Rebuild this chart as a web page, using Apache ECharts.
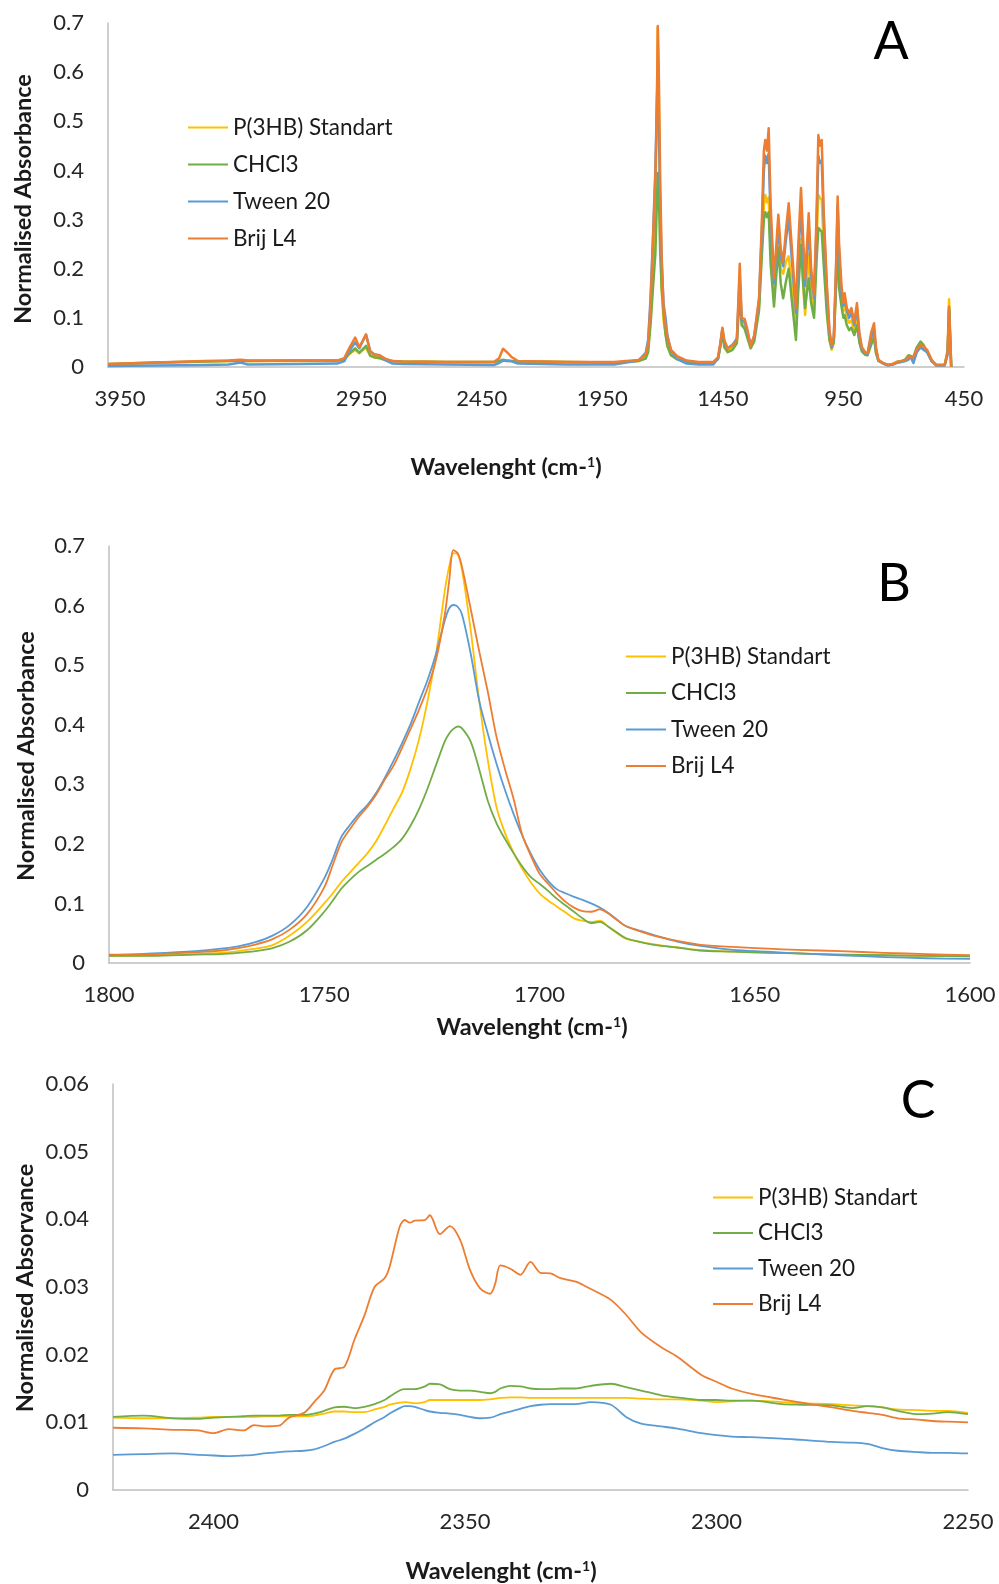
<!DOCTYPE html>
<html><head><meta charset="utf-8">
<script src="https://cdn.jsdelivr.net/npm/echarts@6/dist/echarts.min.js"></script>
<style>html,body{margin:0;padding:0;background:#fff}#c{width:999px;height:1584px}</style>
</head><body><div id="c"></div>
<script>
// ---------- Panel A : full spectrum ----------
const waveA = [4000,3800,3600,3500,3450,3420,3200,3050,3020,3000,
2975,2958,2930,2912,2895,2875,2850,2820,2780,2600,
2400,2378,2362,2345,2328,2300,2100,1900,1800,1770,
1760,1750,1740,1730,1724,1720,1716,1710,1704,1696,
1688,1680,1665,1640,1600,1550,1490,1470,1460,1452,
1444,1430,1410,1392,1380,1372,1360,1350,1335,1320,
1300,1288,1280,1274,1267,1260,1252,1238,1228,1220,
1210,1200,1188,1177,1165,1147,1138,1126,1117,1109,
1102,1094,1084,1072,1062,1054,1048,1040,1032,1019,
1008,999,990,981,974,968,958,950,945,936,
926,917,905,894,884,874,860,850,835,823,
815,805,786,765,745,729,710,694,680,672,
660,646,630,618,603,584,565,530,518,512,
507,503];
const p3hbA = [.005,.008,.011,.012,.013,.012,.012,.012,.015,.026,
.035,.028,.040,.022,.019,.020,.014,.012,.011,.010,
.010,.012,.013,.012,.012,.011,.010,.009,.012,.020,
.036,.100,.180,.330,.520,.690,.570,.268,.160,.095,
.069,.042,.024,.016,.011,.009,.009,.017,.045,.075,
.045,.033,.040,.052,.165,.090,.085,.070,.042,.058,
.125,.250,.330,.350,.335,.345,.240,.150,.210,.260,
.200,.190,.215,.225,.170,.080,.170,.260,.170,.106,
.170,.230,.150,.110,.250,.350,.345,.340,.250,.130,
.055,.035,.050,.170,.300,.200,.140,.115,.125,.100,
.090,.095,.075,.100,.055,.035,.025,.024,.050,.065,
.030,.013,.008,.004,.006,.010,.012,.014,.020,.022,
.018,.034,.042,.040,.032,.013,.004,.004,.035,.138,
.060,0];
const chcl3A = [.006,.009,.011,.012,.013,.012,.013,.013,.016,.027,
.038,.029,.043,.023,.020,.018,.014,.012,.011,.010,
.010,.012,.015,.013,.012,.011,.010,.009,.012,.017,
.030,.086,.160,.230,.330,.395,.365,.235,.162,.110,
.067,.043,.024,.016,.011,.009,.009,.016,.042,.072,
.040,.030,.035,.048,.150,.085,.078,.062,.038,.052,
.115,.230,.300,.315,.305,.315,.210,.123,.190,.242,
.170,.140,.175,.200,.140,.055,.150,.248,.170,.120,
.150,.180,.130,.100,.210,.283,.280,.275,.210,.110,
.055,.039,.050,.160,.260,.160,.123,.100,.105,.085,
.075,.080,.065,.085,.050,.032,.025,.024,.045,.060,
.028,.013,.008,.004,.006,.010,.012,.015,.024,.026,
.020,.040,.052,.045,.030,.012,.004,.004,.030,.120,
.050,0];
const tweenA = [.002,.003,.004,.005,.009,.005,.006,.007,.012,.032,
.050,.038,.066,.032,.026,.024,.014,.007,.006,.005,
.004,.008,.013,.012,.012,.007,.005,.005,.013,.029,
.055,.140,.262,.400,.535,.601,.505,.330,.217,.128,
.101,.064,.033,.016,.007,.005,.005,.018,.048,.078,
.050,.038,.045,.058,.185,.095,.092,.075,.045,.062,
.135,.280,.400,.430,.415,.435,.300,.170,.230,.290,
.225,.205,.260,.305,.225,.110,.215,.330,.230,.165,
.220,.290,.185,.140,.280,.430,.415,.420,.300,.160,
.070,.042,.058,.190,.330,.230,.150,.125,.140,.115,
.100,.110,.085,.120,.065,.038,.028,.026,.060,.075,
.035,.013,.007,.003,.005,.008,.010,.012,.015,.022,
.008,.030,.040,.035,.030,.012,.003,.003,.025,.115,
.050,0];
const brijA = [.006,.009,.012,.013,.015,.013,.013,.013,.018,.038,
.060,.040,.066,.030,.025,.024,.017,.012,.011,.010,
.010,.018,.037,.030,.021,.012,.010,.010,.014,.025,
.048,.126,.255,.390,.510,.694,.610,.385,.228,.118,
.085,.062,.035,.022,.013,.010,.010,.020,.050,.080,
.055,.037,.045,.055,.210,.100,.098,.080,.042,.065,
.140,.300,.440,.462,.440,.486,.330,.180,.250,.310,
.240,.214,.280,.333,.250,.120,.240,.364,.260,.180,
.240,.313,.200,.146,.300,.472,.450,.462,.320,.170,
.075,.045,.060,.200,.347,.250,.165,.130,.150,.120,
.110,.120,.090,.130,.070,.041,.030,.028,.070,.089,
.040,.015,.008,.004,.006,.010,.012,.014,.020,.024,
.020,.035,.045,.042,.035,.014,.004,.004,.030,.123,
.060,0];

// ---------- Panel B : carbonyl region ----------
const waveB = [1800,1790,1780,1774,1770,1766,1762,1758,1754,1750,
1748,1746,1744,1742,1740,1738,1736,1734,1732,1730,
1728,1726,1724,1722,1721,1720,1719,1718,1716,1714,
1712,1710,1708,1706,1704,1702,1700,1698,1696,1694,
1692,1690,1688,1686,1684,1682,1680,1677,1673,1668,
1663,1655,1647,1640,1630,1620,1610,1600];
const p3hbB = [.012,.013,.015,.017,.020,.024,.030,.046,.069,.100,
.117,.136,.152,.168,.184,.204,.230,.258,.285,.325,
.375,.440,.520,.625,.665,.688,.686,.660,.560,.440,
.340,.262,.218,.185,.158,.135,.117,.105,.095,.085,
.075,.071,.069,.071,.061,.050,.041,.036,.031,.026,
.022,.019,.018,.016,.014,.013,.012,.011];
const chcl3B = [.012,.012,.014,.015,.017,.020,.025,.036,.055,.086,
.105,.125,.140,.153,.163,.173,.183,.194,.208,.230,
.258,.293,.333,.372,.385,.393,.397,.394,.372,.325,
.272,.235,.208,.184,.162,.144,.133,.121,.108,.097,
.086,.075,.067,.069,.061,.051,.042,.036,.030,.026,
.021,.019,.017,.016,.014,.013,.012,.011];
const tweenB = [.013,.016,.020,.024,.028,.035,.046,.064,.094,.142,
.175,.212,.232,.250,.265,.285,.310,.338,.368,.400,
.438,.475,.520,.575,.595,.601,.598,.585,.520,.440,
.385,.335,.290,.250,.214,.183,.157,.138,.124,.117,
.111,.106,.100,.093,.084,.073,.062,.055,.046,.036,
.029,.022,.019,.016,.013,.010,.008,.007];
const brijB = [.014,.015,.018,.021,.025,.031,.040,.056,.082,.127,
.165,.203,.225,.245,.262,.282,.307,.330,.360,.392,
.425,.462,.510,.585,.640,.693,.688,.665,.595,.523,
.455,.380,.325,.275,.215,.180,.150,.133,.117,.103,
.093,.087,.086,.090,.083,.072,.062,.054,.045,.037,
.031,.027,.024,.022,.020,.017,.015,.013];

// ---------- Panel C : CO2 region ----------
const waveC = [2420,2414,2408,2403,2400,2397,2394,2392,2390,2387,
2385,2382,2380,2378,2376,2374,2372,2370,2368,2366,
2365,2363,2362,2361,2360,2358,2357,2355,2353,2351,
2349,2347,2345,2344,2343,2341,2339,2337,2335,2333,
2331,2328,2325,2321,2318,2315,2311,2308,2303,2300,
2297,2293,2287,2283,2277,2273,2270,2267,2264,2260,
2257,2254,2250];
const p3hbC = [.0107,.0106,.0106,.0107,.0108,.0108,.0108,.0108,.0109,.0109,
.0109,.0109,.0110,.0113,.0116,.0116,.0115,.0115,.0119,.0123,
.0126,.0129,.0130,.0129,.0128,.0130,.0133,.0133,.0133,.0133,
.0133,.0133,.0134,.0135,.0136,.0137,.0137,.0136,.0136,.0136,
.0136,.0136,.0136,.0136,.0136,.0135,.0134,.0134,.0132,.0130,
.0131,.0132,.0130,.0128,.0127,.0125,.0124,.0122,.0119,.0118,
.0117,.0117,.0114];
const chcl3C = [.0108,.0110,.0106,.0105,.0107,.0108,.0109,.0110,.0110,.0110,
.0111,.0111,.0113,.0117,.0122,.0123,.0121,.0123,.0127,.0133,
.0138,.0147,.0149,.0149,.0149,.0153,.0157,.0156,.0149,.0147,
.0147,.0145,.0143,.0145,.0150,.0154,.0153,.0150,.0149,.0149,
.0150,.0150,.0154,.0157,.0152,.0147,.0140,.0137,.0133,.0133,
.0132,.0132,.0127,.0126,.0125,.0121,.0124,.0122,.0117,.0112,
.0113,.0115,.0112];
const tweenC = [.0052,.0053,.0054,.0052,.0051,.0050,.0051,.0052,.0054,.0056,
.0057,.0058,.0060,.0065,.0071,.0076,.0083,.0091,.0100,.0108,
.0113,.0121,.0124,.0124,.0123,.0118,.0116,.0114,.0113,.0111,
.0108,.0106,.0107,.0109,.0112,.0116,.0120,.0124,.0126,.0127,
.0127,.0127,.0130,.0126,.0108,.0098,.0094,.0091,.0084,.0081,
.0079,.0078,.0076,.0074,.0071,.0070,.0068,.0062,.0058,.0056,
.0055,.0055,.0054];
const brijC = [.0092,.0091,.0089,.0088,.0084,.0090,.0088,.0096,.0094,.0095,
.0107,.0114,.0130,.0147,.0178,.0182,.0222,.0258,.0300,.0313,
.0330,.0389,.0399,.0395,.0398,.0399,.0406,.0378,.0390,.0370,
.0325,.0298,.0290,.0305,.0332,.0327,.0318,.0337,.0321,.0320,
.0313,.0308,.0297,.0281,.0259,.0233,.0211,.0198,.0170,.0160,
.0150,.0142,.0134,.0129,.0122,.0117,.0114,.0111,.0106,.0104,
.0102,.0101,.0100];

const seriesNames = ['P(3HB) Standart','CHCl3','Tween 20','Brij L4'];
const seriesColors = ['#FFC000','#70AD47','#5B9BD5','#ED7D31'];
const yTitles = ['Normalised Absorbance','Normalised Absorbance','Normalised Absorvance'];
const panelLetters = ['A','B','C'];

const FONT = 'Lato';
const AXIS_COLOR = '#bfbfbf';

function mkSeries(wave, arrs, idx, width, smooth) {
  return arrs.map((a, k) => ({
    type: 'line', name: seriesNames[k], xAxisIndex: idx, yAxisIndex: idx,
    data: wave.map((w, i) => [w, a[i]]),
    symbol: 'none', showSymbol: false, smooth: smooth,
    lineStyle: { color: seriesColors[k], width: width, join: 'round' },
    itemStyle: { color: seriesColors[k] },
    emphasis: { disabled: true }, animation: false
  }));
}

const grids = [
  { left: 108, top: 23, width: 856, height: 344 },
  { left: 109, top: 546, width: 861, height: 417 },
  { left: 113, top: 1084, width: 855, height: 406 }
];
const xRanges = [[450, 4000, 500], [1600, 1800, 50], [2250, 2420, 50]];
const yRanges = [[0, 0.7, 0.1], [0, 0.7, 0.1], [0, 0.06, 0.01]];

const xAxes = xRanges.map((r, i) => ({
  gridIndex: i, type: 'value', inverse: true, min: r[0], max: r[1], interval: r[2],
  axisLine: { show: true, onZero: false, lineStyle: { color: AXIS_COLOR, width: 1.5 } },
  axisTick: { show: false }, splitLine: { show: false },
  axisLabel: { fontFamily: FONT, fontSize: 22, color: '#262626', margin: 21, showMaxLabel: i === 1,
    formatter: v => String(v) }
}));
const yAxes = yRanges.map((r, i) => ({
  gridIndex: i, type: 'value', min: r[0], max: r[1], interval: r[2],
  axisLine: { show: true, lineStyle: { color: AXIS_COLOR, width: 1.5 } },
  axisTick: { show: false }, splitLine: { show: false },
  axisLabel: { fontFamily: FONT, fontSize: 22, color: '#262626', margin: 24 }
}));

const legendPos = [[188, 116, 14], [626, 645, 13.5], [713, 1186, 12.5]];
const legends = legendPos.map(p => ({
  orient: 'vertical', left: p[0], top: p[1], itemGap: p[2], padding: 0,
  icon: 'rect', itemWidth: 40, itemHeight: 2, selectedMode: false, data: seriesNames,
  textStyle: { fontFamily: FONT, fontSize: 22.5, color: '#1a1a1a' }
}));

const xTitlePos = [[506, 467], [532, 1027], [501, 1571]];
const yTitlePos = [[23, 199], [26, 756], [25, 1288]];
const letterPos = [[891, 42], [894, 584], [918, 1101]];
const graphics = [];
xTitlePos.forEach(p => graphics.push({
  type: 'text', x: p[0], y: p[1], silent: true,
  style: { text: 'Wavelenght (cm-{s|1})', fontFamily: FONT, fontSize: 23.5, fontWeight: 'bold', fill: '#1a1a1a',
    align: 'center', verticalAlign: 'middle',
    rich: { s: { fontFamily: FONT, fontSize: 14, fontWeight: 'bold', fill: '#1a1a1a', verticalAlign: 'top' } } }
}));
yTitlePos.forEach((p, i) => graphics.push({
  type: 'text', x: p[0], y: p[1], rotation: Math.PI / 2, silent: true,
  style: { text: yTitles[i], fontFamily: FONT, fontSize: 23.5, fontWeight: 'bold', fill: '#1a1a1a', align: 'center', verticalAlign: 'middle' }
}));
letterPos.forEach((p, i) => graphics.push({
  type: 'text', x: p[0], y: p[1], silent: true,
  style: { text: panelLetters[i], fontFamily: FONT, fontSize: 52, fill: '#000', align: 'center', verticalAlign: 'middle' }
}));

const chart = echarts.init(document.getElementById('c'), null, { renderer: 'canvas' });
chart.setOption({
  animation: false,
  backgroundColor: '#fff',
  grid: grids,
  xAxis: xAxes,
  yAxis: yAxes,
  legend: legends,
  graphic: graphics,
  series: [].concat(
    mkSeries(waveA, [p3hbA, chcl3A, tweenA, brijA], 0, 2.5, false),
    mkSeries(waveB, [p3hbB, chcl3B, tweenB, brijB], 1, 1.8, 0.3),
    mkSeries(waveC, [p3hbC, chcl3C, tweenC, brijC], 2, 1.8, 0.3)
  )
});
</script></body></html>
